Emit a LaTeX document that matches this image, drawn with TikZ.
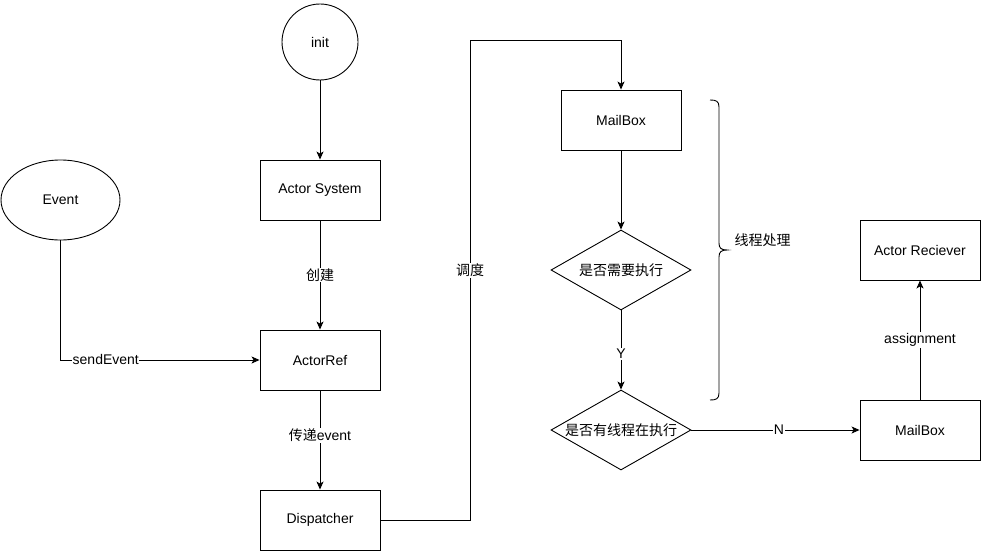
\documentclass[tikz,border=0pt]{standalone}
\usepackage{fontspec}
\setmainfont{Liberation Sans}
\newfontfamily\cjk{Noto Sans CJK SC}
\usetikzlibrary{shapes.geometric,arrows.meta}
\begin{document}
\begin{tikzpicture}[x=1pt,y=-1pt,
  every node/.style={font=\fontsize{14}{16}\selectfont},
  box/.style={draw,line width=0.9pt,minimum width=120pt,minimum height=60pt,inner sep=0pt},
  dia/.style={draw,line width=0.9pt,diamond,aspect=1.75,minimum width=140pt,minimum height=80pt,inner sep=0pt},
  conn/.style={line width=0.9pt,-{Stealth[length=8pt,width=7pt,inset=2pt]}},
  lab/.style={fill=white,inner sep=1pt}]
\useasboundingbox[fill=white] (0,0) rectangle (981,551);
\node[draw,circle,line width=0.9pt,minimum size=76pt,inner sep=0pt] (init) at (320,42) {init};
\node[box] (sys) at (320,190) {Actor System};
\node[draw,ellipse,line width=0.9pt,minimum width=119pt,minimum height=80pt,inner sep=0pt] (ev) at (60.5,200) {Event};
\node[box] (ref) at (320,360) {ActorRef};
\node[box] (disp) at (320,520) {Dispatcher};
\node[box] (mb1) at (621,120) {MailBox};
\node[dia] (d1) at (621,270) {\cjk 是否需要执行};
\node[dia] (d2) at (621,430) {\cjk 是否有线程在执行};
\node[box] (mb2) at (920,430) {MailBox};
\node[box] (rcv) at (920,250) {Actor Reciever};
\coordinate (evc) at (60.5,360);
\coordinate (dr) at (470,520);
\coordinate (dt) at (470,40);
\coordinate (mt) at (621,40);

\draw[conn] (init) -- (sys);
\draw[conn] (sys) -- node[lab] {\cjk 创建} (ref);
\draw[conn] (ev.south) -- (evc) -- (ref.west);
\node[lab,anchor=south west,inner sep=0.5pt] (se) at (72,365) {sendEvent};
\draw[conn] (ref) -- node[lab,pos=0.45] {{\cjk 传递}event} (disp);
\draw[conn] (disp.east) -- (dr) -- node[lab,pos=0.52] {\cjk 调度} (dt) -- (mt) -- (mb1.north);
\draw[conn] (mb1) -- (d1);
\draw[conn] (d1) -- node[lab,pos=0.55] {Y} (d2);
\draw[conn] (d2.east) -- node[lab,pos=0.52] {N} (mb2.west);
\draw[conn] (mb2) -- node[lab] {assignment} (rcv);

\draw[line width=0.9pt] (710,100) .. controls (716,100) and (719,101) .. (719,107)
  -- (719,243) .. controls (719,248) and (721,250) .. (727,250)
  .. controls (721,250) and (719,252) .. (719,257)
  -- (719,393) .. controls (719,399) and (716,400) .. (710,400);
\node[anchor=west] (br) at (731,240) {\cjk 线程处理};
\end{tikzpicture}
\end{document}
